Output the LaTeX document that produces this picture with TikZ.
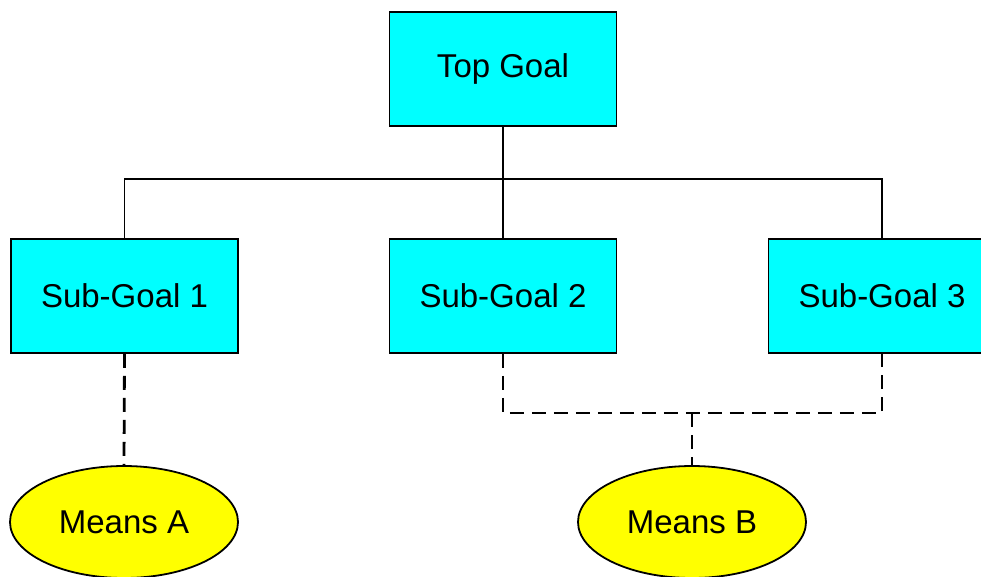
\documentclass[tikz,border=0pt]{standalone}
\usepackage{fontspec}
\setmainfont{Liberation Sans}
\usetikzlibrary{shapes.geometric}
\definecolor{goalfill}{HTML}{00FFFF}
\definecolor{meansfill}{HTML}{FFFF00}
\tikzset{
  goal/.style={draw=black, fill=goalfill, line width=1.8pt, rectangle,
    minimum width=227pt, minimum height=114pt, inner sep=0pt,
    font=\fontsize{33}{38}\selectfont},
  means/.style={draw=black, fill=meansfill, line width=1.8pt, ellipse,
    minimum width=228pt, minimum height=112pt, inner sep=0pt,
    font=\fontsize{33}{38}\selectfont},
  tree/.style={line width=1.7pt},
  link/.style={line width=2.8pt, dash pattern=on 14pt off 8pt}
}
\begin{document}
\begin{tikzpicture}[x=1pt, y=-1pt]
  \clip (0,0) rectangle (981,576);
  \fill[white] (0,0) rectangle (981,576);

  % goal hierarchy
  \node[goal] (top) at (503,69) {Top Goal};
  \node[goal] (s1) at (124.5,296) {Sub-Goal 1};
  \node[goal] (s2) at (503,296) {Sub-Goal 2};
  \node[goal] (s3) at (882,296) {Sub-Goal 3};

  % means
  \node[means] (ma) at (124,522) {Means A};
  \node[means] (mb) at (692,522) {Means B};

  % junction points
  \coordinate (bus) at (503,179);
  \coordinate (busB) at (692,413);

  % solid tree connectors
  \draw[tree] (top.south) -- (top.south |- bus);
  \draw[tree] (s1.north) |- (bus) -| (s3.north);
  \draw[tree] (s2.north) -- (s2.north |- bus);

  % dashed means connectors
  \draw[link] (s1.south) -- (ma.north);
  \draw[link] (s2.south) |- (busB) -| (s3.south);
  \draw[link] (busB) -- (mb.north);
\end{tikzpicture}
\end{document}
